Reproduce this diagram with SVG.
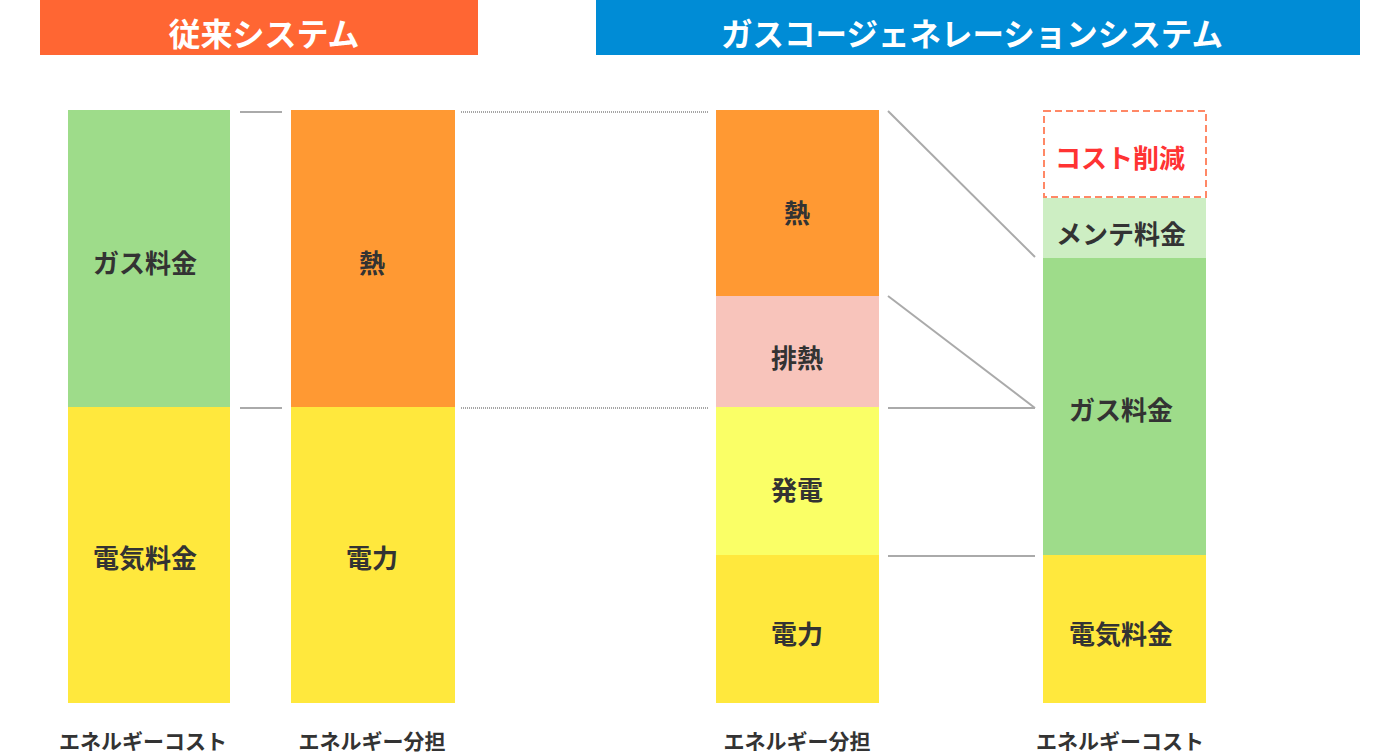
<svg xmlns="http://www.w3.org/2000/svg" width="1400" height="755" viewBox="0 0 1400 755">
<style>
text{font-family:"Noto Sans CJK JP","Noto Sans",sans-serif;font-weight:bold;text-anchor:middle;dominant-baseline:central}
.h{fill:#fff;font-size:32px}
.h2{fill:#fff;font-size:31.5px}
.l{fill:#333;font-size:26px}
.b{fill:#333;font-size:21px}
.ln{stroke:#aaa;stroke-width:2;fill:none}
.dt{stroke:#888;stroke-width:1.5;stroke-dasharray:1 1;fill:none}
.gr{fill:#9EDC8A}.ye{fill:#FFE83D}.or{fill:#FF9933}.pk{fill:#F8C4BB}.ly{fill:#FAFF66}.lg{fill:#CDEEC3}
</style>
<g id="header-left"><rect x="40" y="0" width="438" height="55" fill="#FF6633"/><text class="h" x="264" y="32">従来システム</text></g>
<g id="header-right"><rect x="596" y="0" width="764" height="55" fill="#008CD6"/><text class="h2" x="972" y="32">ガスコージェネレーションシステム</text></g>
<g id="col1">
<rect class="gr" x="68" y="110" width="162" height="297"/>
<rect class="ye" x="68" y="407" width="162" height="296"/>
<text class="l" x="145" y="261">ガス料金</text>
<text class="l" x="145" y="556">電気料金</text>
</g>
<g id="col2">
<rect class="or" x="291" y="110" width="164" height="297"/>
<rect class="ye" x="291" y="407" width="164" height="296"/>
<text class="l" x="372" y="261">熱</text>
<text class="l" x="372" y="556">電力</text>
</g>
<g id="col3">
<rect class="or" x="716" y="110" width="163" height="186"/>
<rect class="pk" x="716" y="296" width="163" height="111"/>
<rect class="ly" x="716" y="407" width="163" height="148"/>
<rect class="ye" x="716" y="555" width="163" height="148"/>
<text class="l" x="797" y="211">熱</text>
<text class="l" x="797" y="356">排熱</text>
<text class="l" x="797" y="488">発電</text>
<text class="l" x="797" y="632">電力</text>
</g>
<g id="col4">
<rect x="1044" y="111" width="162" height="86" fill="none" stroke="#FF8866" stroke-width="2" stroke-dasharray="7 4"/>
<rect class="lg" x="1043" y="198" width="163" height="60"/>
<rect class="gr" x="1043" y="258" width="163" height="297"/>
<rect class="ye" x="1043" y="555" width="163" height="148"/>
<text class="l" x="1120" y="156" style="fill:#FF3333">コスト削減</text>
<text class="l" x="1121" y="232">メンテ料金</text>
<text class="l" x="1121" y="408">ガス料金</text>
<text class="l" x="1121" y="632">電気料金</text>
</g>
<g id="connectors">
<line class="ln" x1="240" y1="112" x2="282" y2="112"/>
<line class="ln" x1="240" y1="408" x2="282" y2="408"/>
<line class="dt" x1="461" y1="112" x2="709" y2="112"/>
<line class="dt" x1="461" y1="408" x2="709" y2="408"/>
<line class="ln" x1="888" y1="111" x2="1035" y2="257"/>
<line class="ln" x1="888" y1="296" x2="1035" y2="408"/>
<line class="ln" x1="888" y1="408" x2="1035" y2="408"/>
<line class="ln" x1="888" y1="556" x2="1035" y2="556"/>
</g>
<g id="labels">
<text class="b" x="143" y="740">エネルギーコスト</text>
<text class="b" x="372" y="740">エネルギー分担</text>
<text class="b" x="797" y="740">エネルギー分担</text>
<text class="b" x="1120" y="740">エネルギーコスト</text>
</g>
</svg>
